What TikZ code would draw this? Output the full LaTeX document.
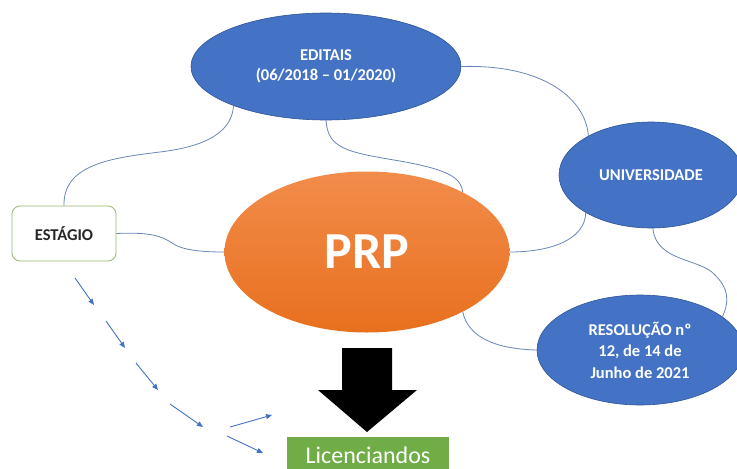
\documentclass[tikz,border=0pt]{standalone}
\usepackage{fontspec}
\setmainfont{Carlito}
\usetikzlibrary{shapes.geometric,arrows.meta}
\definecolor{ellblue}{RGB}{68,114,196}
\definecolor{ellborder}{RGB}{47,85,151}
\definecolor{conn}{RGB}{105,135,185}
\definecolor{boxgreen}{RGB}{112,173,71}
\definecolor{estborder}{RGB}{150,185,110}
\definecolor{orlight}{RGB}{242,140,75}
\definecolor{ordark}{RGB}{232,112,30}
\tikzset{
  blueell/.style={ellipse, fill=ellblue, draw=ellborder, line width=0.6pt, inner sep=0pt,
    text=white, font=\bfseries\fontsize{16.5}{20}\selectfont, align=center},
  connector/.style={draw=conn, line width=0.8pt},
  smallarrow/.style={draw=ellblue, line width=0.9pt, -{Triangle[length=6pt,width=5pt]}},
}
\begin{document}
\begin{tikzpicture}[x=1pt,y=-1pt]
\useasboundingbox (0,0) rectangle (737,469);
\clip (0,0) rectangle (737,469);
\fill[white] (0,0) rectangle (737,469);

% nodes
\node[blueell, minimum width=270pt, minimum height=107pt] (ed) at (326,66.5) {EDITAIS\\(06/2018 – 01/2020)};
\node[blueell, minimum width=184pt, minimum height=106pt] (un) at (651,175) {UNIVERSIDADE};
\node[blueell, minimum width=206pt, minimum height=110pt, font=\bfseries\fontsize{16.5}{21.5}\selectfont] (res) at (640,350) {RESOLUÇÃO nº\\12, de 14 de\\Junho de 2021};
\node[ellipse, inner sep=0pt, minimum width=285pt, minimum height=161pt,
      top color=orlight, bottom color=ordark, text=white,
      font=\bfseries\fontsize{52}{60}\selectfont] (prp) at (367,252) {PRP};
\node[draw=estborder, line width=0.8pt, rounded corners=8pt, fill=white,
      minimum width=104pt, minimum height=55pt, inner sep=0pt, text=black!85,
      font=\bfseries\fontsize{16.5}{20}\selectfont] (est) at (64,233.5) {ESTÁGIO};
\node[fill=boxgreen, minimum width=162pt, minimum height=36pt, inner sep=0pt,
      text=white, font=\fontsize{24}{28}\selectfont] (lic) at (368,455) {Licenciandos};

% black arrow
\fill[black] (342,348) -- (392,348) -- (392,390) -- (417,390) -- (367,432) -- (318,390) -- (342,390) -- cycle;

% connectors
\draw[connector] (ed.203) .. controls (232,130) and (210,146) .. (160,152)
                 .. controls (110,158) and (63,165) .. (est.north);
\draw[connector] (ed.270) .. controls (328,148) and (345,152) .. (400,161)
                 .. controls (450,170) and (461,178) .. (prp.32);
\draw[connector] (ed.east) .. controls (545,64) and (586,100) .. (un.148);
\draw[connector] (prp.east) .. controls (550,252) and (585,240) .. (un.210);
\draw[connector] (un.272) .. controls (656,262) and (700,258) .. (715,275)
                 .. controls (728,288) and (730,300) .. (res.22);
\draw[connector] (prp.-32) .. controls (468,337) and (495,349) .. (res.west);
\draw[connector] (est.east) .. controls (150,232) and (162,236) .. (172,243)
                 .. controls (182,250) and (200,252) .. (prp.west);

% small arrows
\coordinate (a1s) at (75,278);  \coordinate (a1e) at (94,305);
\coordinate (a2s) at (106,321); \coordinate (a2e) at (125,348);
\coordinate (a3s) at (136,363); \coordinate (a3e) at (158,390);
\coordinate (a4s) at (170,404); \coordinate (a4e) at (203,427);
\coordinate (a5s) at (230,427); \coordinate (a5e) at (272,415);
\coordinate (a6s) at (227,436); \coordinate (a6e) at (263,453);
\draw[smallarrow] (a1s) -- (a1e);
\draw[smallarrow] (a2s) -- (a2e);
\draw[smallarrow] (a3s) -- (a3e);
\draw[smallarrow] (a4s) -- (a4e);
\draw[smallarrow] (a5s) -- (a5e);
\draw[smallarrow] (a6s) -- (a6e);
\end{tikzpicture}
\end{document}
